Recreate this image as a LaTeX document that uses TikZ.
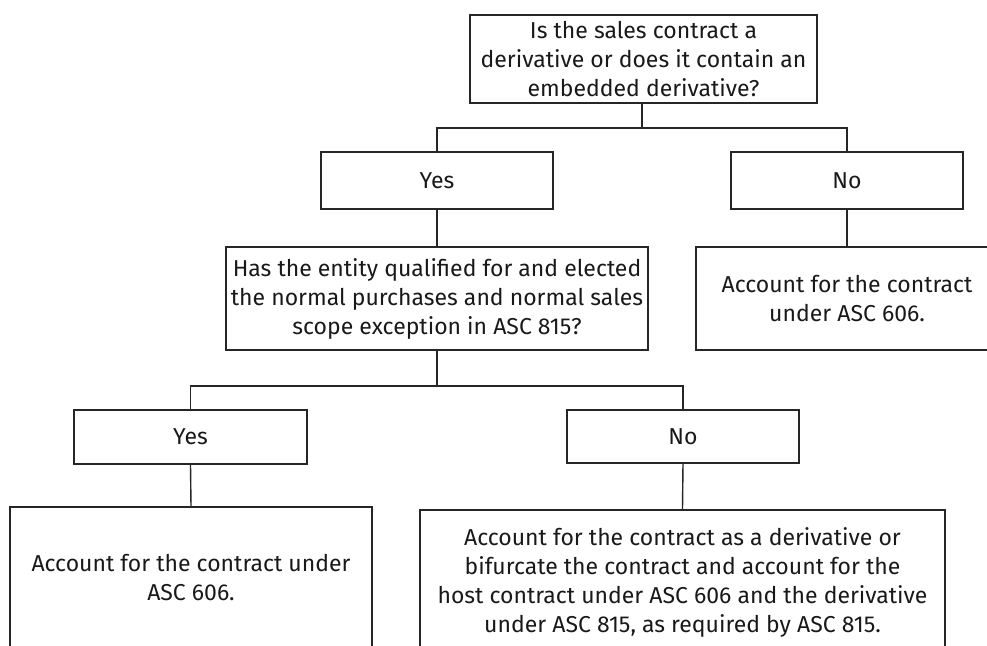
\documentclass[tikz,border=0pt]{standalone}
\usepackage{fontspec}
\setmainfont{Fira Sans}
\begin{document}
\begin{tikzpicture}[x=0.5pt,y=-0.5pt,
  box/.style={draw=black!85,line width=0.7pt,inner sep=0pt,align=center,
    font=\fontsize{11.5}{14.5}\selectfont,text=black!90},
  link/.style={draw=black!85,line width=0.7pt}]
\useasboundingbox (0,0) rectangle (987,646);
\clip (0,0) rectangle (987,646);
\node[box,minimum width=173.5pt,minimum height=44pt] (q1) at (643.5,59)
  {Is the sales contract a\\derivative or does it contain an\\embedded derivative?};
\node[box,minimum width=116pt,minimum height=28.5pt] (yes1) at (437,180.5) {Yes};
\node[box,minimum width=116pt,minimum height=28.5pt] (no1) at (847,180.5) {No};
\node[box,minimum width=211pt,minimum height=51.5pt] (q2) at (437,298.5)
  {Has the entity qualified for and elected\\the normal purchases and normal sales\\scope exception in ASC 815?};
\node[box,minimum width=151pt,minimum height=51.5pt] (acc0) at (847,298.5)
  {Account for the contract\\under ASC 606.};
\node[box,minimum width=116.5pt,minimum height=27pt] (yes2) at (190.5,437) {Yes};
\node[box,minimum width=116pt,minimum height=26.5pt] (no2) at (683,436.5) {No};
\node[box,minimum width=181pt,minimum height=71pt] (acc1) at (191,578)
  {Account for the contract under\\ASC 606.};
\node[box,minimum width=262.5pt,minimum height=72pt] (acc2) at (682.5,582)
  {Account for the contract as a derivative or\\bifurcate the contract and account for the\\host contract under ASC 606 and the derivative\\under ASC 815, as required by ASC 815.};
\coordinate (j1) at (642,128);
\coordinate (j2) at (437,386);
\draw[link] (q1.south -| j1) -- (j1);
\draw[link] (yes1.north) |- (j1) -| (no1.north);
\draw[link] (yes1.south) -- (q2.north);
\draw[link] (no1.south) -- (acc0.north);
\draw[link] (q2.south) -- (j2);
\draw[link] (yes2.north) |- (j2) -| (no2.north);
\draw[link] (yes2.south) -- (acc1.north);
\draw[link] (no2.south) -- (acc2.north);
\end{tikzpicture}
\end{document}
